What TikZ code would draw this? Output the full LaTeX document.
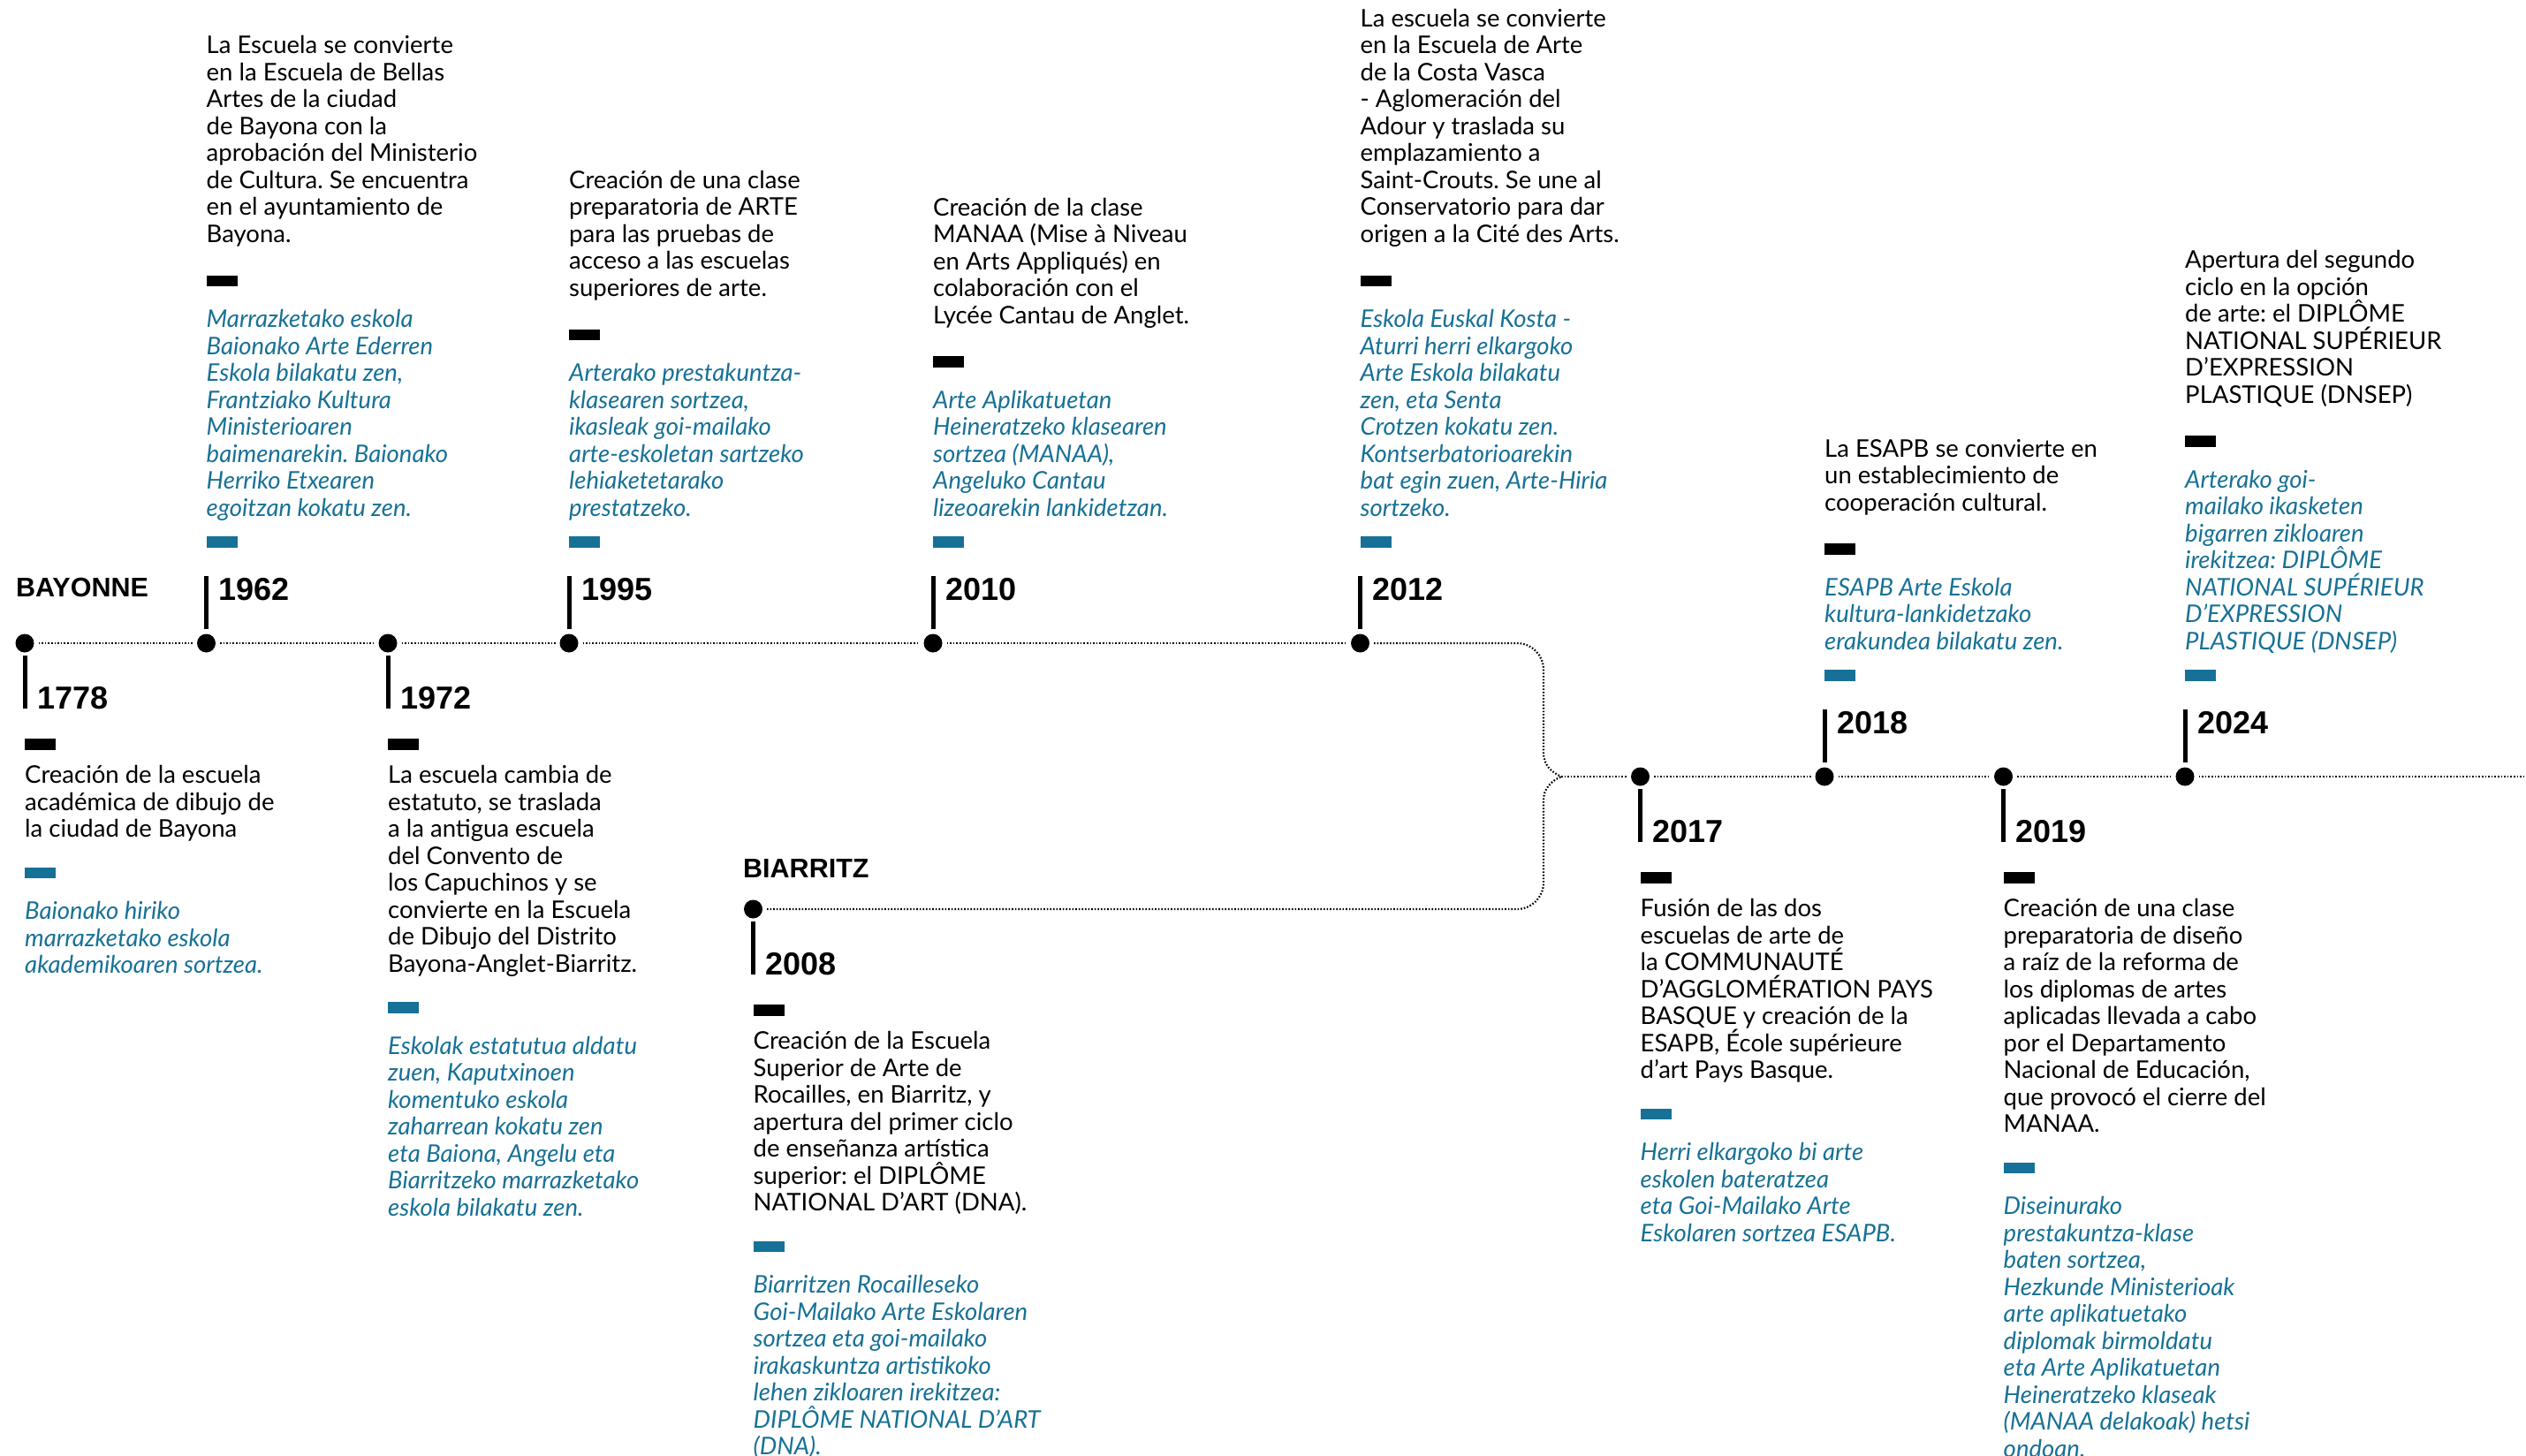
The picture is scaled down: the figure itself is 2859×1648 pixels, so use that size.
\documentclass[tikz,border=0pt]{standalone}
\usepackage{fontspec}
\setmainfont{Lato}
\newfontfamily\yearfont{Liberation Sans}
\definecolor{esteal}{RGB}{23,113,150}
\frenchspacing
\newcommand\txt[1]{\parbox[t]{420pt}{\raggedright\frenchspacing #1}}
\tikzset{
  tdot/.style={circle, fill=black, inner sep=0pt, minimum size=21pt, outer sep=5pt},
  dotline/.style={line width=2.2pt, dash pattern=on 1.6pt off 2pt},
  tickline/.style={line width=5pt},
  yearlbl/.style={anchor=base west, inner sep=0pt, font=\yearfont\bfseries\fontsize{36}{36}\selectfont},
  citylbl/.style={anchor=base west, inner sep=0pt, font=\yearfont\bfseries\fontsize{30.5}{30.5}\selectfont},
  blackbar/.style={anchor=north west, fill=black, inner sep=0pt, minimum width=35pt, minimum height=12.5pt},
  tealbar/.style={anchor=north west, fill=esteal, inner sep=0pt, minimum width=35pt, minimum height=12.5pt},
  esp/.style={anchor=base west, inner sep=0pt, font=\fontsize{27.5}{30.5}\selectfont},
  eus/.style={anchor=base west, inner sep=0pt, text=esteal, font=\itshape\fontsize{27.5}{30.5}\selectfont}
}
\begin{document}
\begin{tikzpicture}[x=1pt,y=-1pt]
\path[use as bounding box, fill=white] (0,0) rectangle (2859,1648);

% city labels
\node[citylbl] (bayonne) at (18,675) {BAYONNE};
\node[citylbl] (biarritz) at (841,993) {BIARRITZ};

% dots
\node[tdot] (d1778) at (28,728) {};
\node[tdot] (d1962) at (233.5,728) {};
\node[tdot] (d1972) at (439,728) {};
\node[tdot] (d1995) at (644,728) {};
\node[tdot] (d2010) at (1056,728) {};
\node[tdot] (d2012) at (1539.5,728) {};
\node[tdot] (d2008) at (852.5,1029) {};
\node[tdot] (d2017) at (1856.5,879) {};
\node[tdot] (d2018) at (2065,879) {};
\node[tdot] (d2019) at (2267.5,879) {};
\node[tdot] (d2024) at (2473,879) {};
\coordinate (merge) at (1767,879);
\coordinate (rightend) at (2859,879);

% dotted connectors
\draw[dotline] (d1778) -- (d1962);
\draw[dotline] (d1962) -- (d1972);
\draw[dotline] (d1972) -- (d1995);
\draw[dotline] (d1995) -- (d2010);
\draw[dotline] (d2010) -- (d2012);
\draw[dotline] (d2012) -- (1717,728) .. controls (1733.6,728) and (1747,741.4) .. (1747,758)
   -- (1747,852) .. controls (1747,866) and (1756,874) .. (merge);
\draw[dotline] (d2008) -- (1717,1029) .. controls (1733.6,1029) and (1747,1015.6) .. (1747,999)
   -- (1747,906) .. controls (1747,892) and (1756,884) .. (merge);
\draw[dotline] (merge) -- (d2017);
\draw[dotline] (d2017) -- (d2018);
\draw[dotline] (d2018) -- (d2019);
\draw[dotline] (d2019) -- (d2024);
\draw[dotline] (d2024) -- (rightend);

% ticks and years
\draw[tickline] (28,742) -- (28,802);      \node[yearlbl] (y1778) at (42,802) {1778};
\draw[tickline] (233.5,652) -- (233.5,712); \node[yearlbl] (y1962) at (247.5,679.5) {1962};
\draw[tickline] (439,742) -- (439,802);    \node[yearlbl] (y1972) at (453,802) {1972};
\draw[tickline] (644,652) -- (644,712);    \node[yearlbl] (y1995) at (658,679.5) {1995};
\draw[tickline] (1056,652) -- (1056,712);  \node[yearlbl] (y2010) at (1070,679.5) {2010};
\draw[tickline] (1539.5,652) -- (1539.5,712); \node[yearlbl] (y2012) at (1553.5,679.5) {2012};
\draw[tickline] (852.5,1043) -- (852.5,1103); \node[yearlbl] (y2008) at (866.5,1103) {2008};
\draw[tickline] (1856.5,893) -- (1856.5,953); \node[yearlbl] (y2017) at (1870.5,953) {2017};
\draw[tickline] (2065,803) -- (2065,863);  \node[yearlbl] (y2018) at (2079,830.5) {2018};
\draw[tickline] (2267.5,893) -- (2267.5,953); \node[yearlbl] (y2019) at (2281.5,953) {2019};
\draw[tickline] (2473,803) -- (2473,863);  \node[yearlbl] (y2024) at (2487,830.5) {2024};

% 1778
\node[blackbar] (bb1778) at (28,836) {};
\node[esp] (es1778) at (28,886.5) {\txt{Creación de la escuela\\académica de dibujo de\\la ciudad de Bayona}};
\node[tealbar] (tb1778) at (28,981.5) {};
\node[eus] (eu1778) at (28,1040.5) {\txt{Baionako hiriko\\marrazketako eskola\\akademikoaren sortzea.}};

% 1962
\node[esp] (es1962) at (233.5,61) {\txt{La Escuela se convierte\\en la Escuela de Bellas\\Artes de la ciudad\\de Bayona con la\\aprobación del Ministerio\\de Cultura. Se encuentra\\en el ayuntamiento de\\Bayona.}};
\node[blackbar] (bb1962) at (233.5,311.5) {};
\node[eus] (eu1962) at (233.5,370.5) {\txt{Marrazketako eskola\\Baionako Arte Ederren\\Eskola bilakatu zen,\\Frantziako Kultura\\Ministerioaren\\baimenarekin. Baionako\\Herriko Etxearen\\egoitzan kokatu zen.}};
\node[tealbar] (tb1962) at (233.5,607) {};

% 1972
\node[blackbar] (bb1972) at (439,836) {};
\node[esp] (es1972) at (439,886.5) {\txt{La escuela cambia de\\estatuto, se traslada\\a la antigua escuela\\del Convento de\\los Capuchinos y se\\convierte en la Escuela\\de Dibujo del Distrito\\Bayona-Anglet-Biarritz.}};
\node[tealbar] (tb1972) at (439,1134) {};
\node[eus] (eu1972) at (439,1193) {\txt{Eskolak estatutua aldatu\\zuen, Kaputxinoen\\komentuko eskola\\zaharrean kokatu zen\\eta Baiona, Angelu eta\\Biarritzeko marrazketako\\eskola bilakatu zen.}};

% 1995
\node[esp] (es1995) at (644,213.5) {\txt{Creación de una clase\\preparatoria de ARTE\\para las pruebas de\\acceso a las escuelas\\superiores de arte.}};
\node[blackbar] (bb1995) at (644,372.5) {};
\node[eus] (eu1995) at (644,431.5) {\txt{Arterako prestakuntza-\\klasearen sortzea,\\ikasleak goi-mailako\\arte-eskoletan sartzeko\\lehiaketetarako\\prestatzeko.}};
\node[tealbar] (tb1995) at (644,607) {};

% 2010
\node[esp] (es2010) at (1056,244) {\txt{Creación de la clase\\MANAA (Mise à Niveau\\en Arts Appliqués) en\\colaboración con el\\Lycée Cantau de Anglet.}};
\node[blackbar] (bb2010) at (1056,403) {};
\node[eus] (eu2010) at (1056,462) {\txt{Arte Aplikatuetan\\Heineratzeko klasearen\\sortzea (MANAA),\\Angeluko Cantau\\lizeoarekin lankidetzan.}};
\node[tealbar] (tb2010) at (1056,607) {};

% 2012
\node[esp] (es2012) at (1539.5,30.5) {\txt{La escuela se convierte\\en la Escuela de Arte\\de la Costa Vasca\\- Aglomeración del\\Adour y traslada su\\emplazamiento a\\Saint-Crouts. Se une al\\Conservatorio para dar\\origen a la Cité des Arts.}};
\node[blackbar] (bb2012) at (1539.5,311.5) {};
\node[eus] (eu2012) at (1539.5,370.5) {\txt{Eskola Euskal Kosta -\\Aturri herri elkargoko\\Arte Eskola bilakatu\\zen, eta Senta\\Crotzen kokatu zen.\\Kontserbatorioarekin\\bat egin zuen, Arte-Hiria\\sortzeko.}};
\node[tealbar] (tb2012) at (1539.5,607) {};

% 2008
\node[blackbar] (bb2008) at (852.5,1137) {};
\node[esp] (es2008) at (852.5,1187.5) {\txt{Creación de la Escuela\\Superior de Arte de\\Rocailles, en Biarritz, y\\apertura del primer ciclo\\de enseñanza artística\\superior: el DIPLÔME\\NATIONAL D’ART (DNA).}};
\node[tealbar] (tb2008) at (852.5,1404.5) {};
\node[eus] (eu2008) at (852.5,1463.5) {\txt{Biarritzen Rocailleseko\\Goi-Mailako Arte Eskolaren\\sortzea eta goi-mailako\\irakaskuntza artistikoko\\lehen zikloaren irekitzea:\\DIPLÔME NATIONAL D’ART\\(DNA).}};

% 2017
\node[blackbar] (bb2017) at (1856.5,987) {};
\node[esp] (es2017) at (1856.5,1037.5) {\txt{Fusión de las dos\\escuelas de arte de\\la COMMUNAUTÉ\\D’AGGLOMÉRATION PAYS\\BASQUE y creación de la\\ESAPB, École supérieure\\d’art Pays Basque.}};
\node[tealbar] (tb2017) at (1856.5,1254.5) {};
\node[eus] (eu2017) at (1856.5,1313.5) {\txt{Herri elkargoko bi arte\\eskolen bateratzea\\eta Goi-Mailako Arte\\Eskolaren sortzea ESAPB.}};

% 2018
\node[esp] (es2018) at (2065,517) {\txt{La ESAPB se convierte en\\un establecimiento de\\cooperación cultural.}};
\node[blackbar] (bb2018) at (2065,615) {};
\node[eus] (eu2018) at (2065,674) {\txt{ESAPB Arte Eskola\\kultura-lankidetzako\\erakundea bilakatu zen.}};
\node[tealbar] (tb2018) at (2065,758) {};

% 2019
\node[blackbar] (bb2019) at (2267.5,987) {};
\node[esp] (es2019) at (2267.5,1037.5) {\txt{Creación de una clase\\preparatoria de diseño\\a raíz de la reforma de\\los diplomas de artes\\aplicadas llevada a cabo\\por el Departamento\\Nacional de Educación,\\que provocó el cierre del\\MANAA.}};
\node[tealbar] (tb2019) at (2267.5,1315.5) {};
\node[eus] (eu2019) at (2267.5,1374.5) {\txt{Diseinurako\\prestakuntza-klase\\baten sortzea,\\Hezkunde Ministerioak\\arte aplikatuetako\\diplomak birmoldatu\\eta Arte Aplikatuetan\\Heineratzeko klaseak\\(MANAA delakoak) hetsi\\ondoan.}};

% 2024
\node[esp] (es2024) at (2473,303.5) {\txt{Apertura del segundo\\ciclo en la opción\\de arte: el DIPLÔME\\NATIONAL SUPÉRIEUR\\D’EXPRESSION\\PLASTIQUE (DNSEP)}};
\node[blackbar] (bb2024) at (2473,493) {};
\node[eus] (eu2024) at (2473,552) {\txt{Arterako goi-\\mailako ikasketen\\bigarren zikloaren\\irekitzea: DIPLÔME\\NATIONAL SUPÉRIEUR\\D’EXPRESSION\\PLASTIQUE (DNSEP)}};
\node[tealbar] (tb2024) at (2473,758) {};
\end{tikzpicture}
\end{document}
